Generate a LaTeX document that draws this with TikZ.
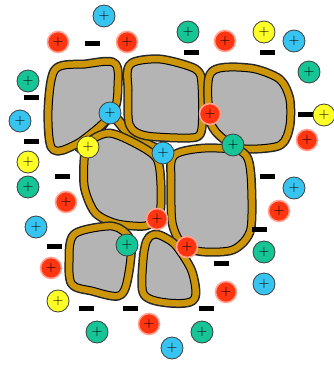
\documentclass[tikz,border=0pt]{standalone}
\usepackage{tikz}

\definecolor{ioncyan}{RGB}{56,196,240}
\definecolor{iongreen}{RGB}{22,196,150}
\definecolor{ionyellow}{RGB}{255,255,40}
\definecolor{ionred}{RGB}{255,52,16}
\definecolor{coat}{RGB}{204,150,8}
\definecolor{core}{RGB}{180,180,180}

\tikzset{
	ion/.style={circle, minimum size=22pt, inner sep=0pt, draw=black!75, line width=0.8pt, font=\Large},
	cyanion/.style={ion, fill=ioncyan},
	greenion/.style={ion, fill=iongreen},
	yellowion/.style={ion, fill=ionyellow},
	redion/.style={ion, fill=ionred, draw=ionred!45, line width=1.6pt, minimum size=21pt},
	anion/.style={rectangle, fill=black, minimum width=15pt, minimum height=5pt, inner sep=0pt}
}
% grain: dark rim, coating band, grey core
\def\grain#1{
	\draw[line width=17pt, color=black!85, line join=round] plot[smooth cycle, tension=0.45] coordinates {#1};
	\draw[line width=14pt, color=coat, line join=round] plot[smooth cycle, tension=0.45] coordinates {#1};
	\draw[line width=1pt, fill=core] plot[smooth cycle, tension=0.45] coordinates {#1};
}
% coating bridge between neighbouring grains
\def\bridge#1{
	\draw[line width=11pt, color=black!85, line join=round, line cap=round] plot[smooth, tension=0.5] coordinates {#1};
	\draw[line width=8pt, color=coat, line join=round, line cap=round] plot[smooth, tension=0.5] coordinates {#1};
}

\begin{document}
\begin{tikzpicture}[x=1pt, y=-1pt]
		%%%%% START %%%%%
		
		\fill[white] (0, 0) rectangle (334, 365);
		\useasboundingbox (0, 0) rectangle (334, 365);
		
		\bridge{(98,130) (112,116) (128,132) (150,146) (168,152)}
		\bridge{(80,148) (96,140)}
		
		\grain{(58,72) (85,68) (112,66) (114,86) (112,105) (101,120) (87,132) (74,141) (55,146) (52,110)}
		\grain{(133,67) (160,63) (193,72) (198,85) (198,128) (190,134) (147,132) (133,123) (132,90)}
		\grain{(214,75) (250,72) (277,82) (286,100) (286,125) (278,142) (245,145) (226,136) (214,120)}
		\grain{(90,148) (108,137) (130,145) (153,160) (157,185) (156,212) (145,222) (118,220) (98,210) (88,185)}
		\grain{(177,158) (205,152) (240,155) (247,175) (247,228) (232,246) (205,248) (186,243) (176,222) (175,180)}
		\grain{(77,237) (112,230) (127,242) (125,272) (118,292) (92,287) (75,282) (73,262)}
		\grain{(150,243) (156,238) (172,247) (188,272) (191,297) (168,299) (147,292) (147,260)}
		
		% negative charges
		\node[anion] (neg1) at (92, 43) {};
		\node[anion] (neg2) at (191, 52) {};
		\node[anion] (neg3) at (267, 52) {};
		\node[anion] (neg4) at (31, 97) {};
		\node[anion] (neg5) at (305, 114) {};
		\node[anion] (neg6) at (31, 141) {};
		\node[anion] (neg7) at (62, 176) {};
		\node[anion] (neg8) at (267, 176) {};
		\node[anion] (neg9) at (259, 229) {};
		\node[anion] (neg10) at (54, 246) {};
		\node[anion] (neg11) at (221, 263) {};
		\node[anion] (neg12) at (86, 308) {};
		\node[anion] (neg13) at (130, 308) {};
		\node[anion] (neg14) at (206, 308) {};
		
		% cations
		\node[cyanion] (cyan1) at (104, 16) {$+$};
		\node[cyanion] (cyan2) at (294, 41) {$+$};
		\node[cyanion] (cyan3) at (110, 113) {$+$};
		\node[cyanion] (cyan4) at (20, 121) {$+$};
		\node[cyanion] (cyan5) at (163, 153) {$+$};
		\node[cyanion] (cyan6) at (294, 188) {$+$};
		\node[cyanion] (cyan7) at (36, 227) {$+$};
		\node[cyanion] (cyan8) at (264, 284) {$+$};
		\node[cyanion] (cyan9) at (172, 348) {$+$};
		
		\node[redion] (red1) at (58, 42) {$+$};
		\node[redion] (red2) at (127, 42) {$+$};
		\node[redion] (red3) at (225, 41) {$+$};
		\node[redion] (red4) at (210, 114) {$+$};
		\node[redion] (red5) at (307, 140) {$+$};
		\node[redion] (red6) at (66, 202) {$+$};
		\node[redion] (red7) at (279, 211) {$+$};
		\node[redion] (red8) at (157, 219) {$+$};
		\node[redion] (red9) at (187, 247) {$+$};
		\node[redion] (red10) at (51, 268) {$+$};
		\node[redion] (red11) at (226, 292) {$+$};
		\node[redion] (red12) at (149, 324) {$+$};
		
		\node[greenion] (green1) at (188, 32) {$+$};
		\node[greenion] (green2) at (309, 72) {$+$};
		\node[greenion] (green3) at (28, 81) {$+$};
		\node[greenion] (green4) at (233, 145) {$+$};
		\node[greenion] (green5) at (28, 187) {$+$};
		\node[greenion] (green6) at (127, 245) {$+$};
		\node[greenion] (green7) at (264, 252) {$+$};
		\node[greenion] (green8) at (97, 332) {$+$};
		\node[greenion] (green9) at (202, 332) {$+$};
		
		\node[yellowion] (yellow1) at (264, 32) {$+$};
		\node[yellowion] (yellow2) at (324, 115) {$+$};
		\node[yellowion] (yellow3) at (88, 147) {$+$};
		\node[yellowion] (yellow4) at (28, 162) {$+$};
		\node[yellowion] (yellow5) at (58, 301) {$+$};
		
		%%%%% END %%%%%
	\end{tikzpicture}
\end{document}
